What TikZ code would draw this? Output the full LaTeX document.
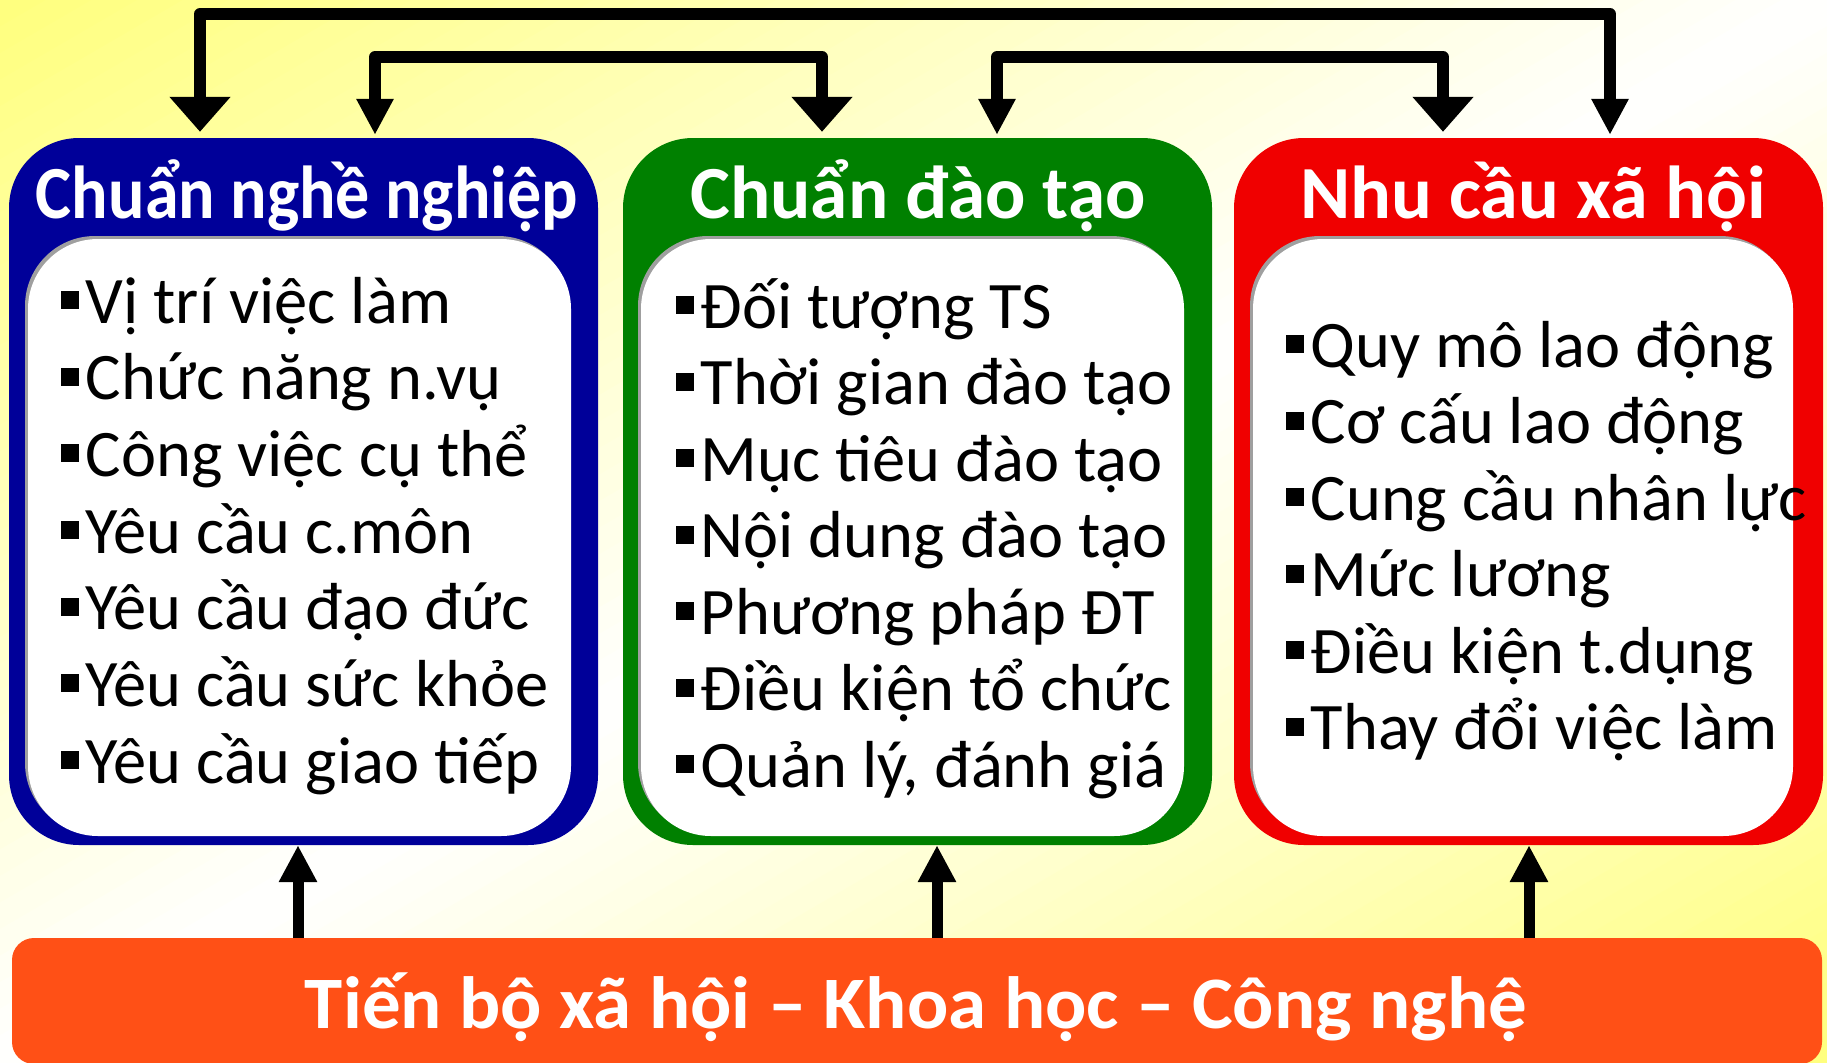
\documentclass[tikz,border=0pt]{standalone}
\usepackage{fontspec}
\setmainfont{Carlito}
\usetikzlibrary{arrows.meta,shadows}
\definecolor{bgyel}{RGB}{255,255,125}
\definecolor{cblue}{RGB}{0,0,153}
\definecolor{cgreen}{RGB}{0,128,0}
\definecolor{cred}{RGB}{240,0,0}
\definecolor{corange}{RGB}{255,80,22}
\newcommand\sqb{\rule[14pt]{18pt}{18pt}\hspace{6.5pt}}
\tikzset{
  wt/.tip={Triangle[width=59pt,length=35pt]},
  nt/.tip={Triangle[width=35pt,length=36pt]},
}
\begin{document}
\begin{tikzpicture}[x=1pt,y=-1pt,
  outerbox/.style={draw=none, rounded corners=70pt, minimum width=589pt, minimum height=707pt, inner sep=0pt},
  innerbox/.style={fill=white, rounded corners=70pt, minimum width=543pt, minimum height=597pt, inner sep=0pt,
     drop shadow={shadow xshift=-3pt, shadow yshift=3pt, fill=gray!75, opacity=1}},
  titletext/.style={text=white, inner sep=0pt, anchor=base, font=\fontsize{75}{90}\selectfont\bfseries},
  item/.style={anchor=base west, inner sep=0pt, font=\fontsize{66.5}{80}\selectfont},
  conn/.style={line width=12pt, line join=round, draw=black},
  uparrow/.style={line width=11pt, draw=black, -{Triangle[width=36pt,length=37pt]}},
]
\useasboundingbox (0,0) rectangle (1827,1062);
% background gradient
\begin{scope}
\clip (0,0) rectangle (1827,1062);
\foreach \k in {0,...,79}{
  \pgfmathsetmacro\ta{\k*0.025}
  \pgfmathsetmacro\tb{\k*0.025+0.03}
  \pgfmathsetmacro\pc{abs(1-(\k+0.5)*0.025)*100}
  \fill[bgyel!\pc!white] (\ta*1827,0) -- (\tb*1827,0) -- (0,\tb*1062) -- (0,\ta*1062) -- cycle;
}
\end{scope}

% outer boxes
\node[outerbox, fill=cblue] (blue) at (303.5,491.5) {};
\node[outerbox, fill=cgreen] (green) at (917.5,491.5) {};
\node[outerbox, fill=cred] (red) at (1528.5,491.5) {};

% inner boxes
\node[innerbox] (blueIn) at (299.5,537.5) {};
\node[innerbox] (greenIn) at (912.5,537.5) {};
\node[innerbox, minimum width=540pt] (redIn) at (1523,537.5) {};

% titles
\node[titletext] (t1) at (307,218) {\resizebox{542pt}{\height}{Chuẩn nghề nghiệp}};
\node[titletext] (t2) at (918,218) {\resizebox{455pt}{\height}{Chuẩn đào tạo}};
\node[titletext] (t3) at (1533,218) {\resizebox{466pt}{\height}{Nhu cầu xã hội}};

% left list
\node[item] (l1) at (61,323) {\sqb Vị trí việc làm};
\node[item] (l2) at (61,399.7) {\sqb Chức năng n.vụ};
\node[item] (l3) at (61,476.3) {\sqb Công việc cụ thể};
\node[item] (l4) at (61,553) {\sqb Yêu cầu c.môn};
\node[item] (l5) at (61,629.7) {\sqb Yêu cầu đạo đức};
\node[item] (l6) at (61,706.3) {\sqb Yêu cầu sức khỏe};
\node[item] (l7) at (61,783) {\sqb Yêu cầu giao tiếp};

% middle list
\node[item] (m1) at (676,328) {\sqb Đối tượng TS};
\node[item] (m2) at (676,404.5) {\sqb Thời gian đào tạo};
\node[item] (m3) at (676,481) {\sqb Mục tiêu đào tạo};
\node[item] (m4) at (676,557.5) {\sqb Nội dung đào tạo};
\node[item] (m5) at (676,634) {\sqb Phương pháp ĐT};
\node[item] (m6) at (676,710.5) {\sqb Điều kiện tổ chức};
\node[item] (m7) at (676,787) {\sqb Quản lý, đánh giá};

% right list
\node[item] (r1) at (1286,367) {\sqb Quy mô lao động};
\node[item] (r2) at (1286,443.5) {\sqb Cơ cấu lao động};
\node[item] (r3) at (1286,520) {\sqb Cung cầu nhân lực};
\node[item] (r4) at (1286,596.5) {\sqb Mức lương};
\node[item] (r5) at (1286,673) {\sqb Điều kiện t.dụng};
\node[item] (r6) at (1286,749.5) {\sqb Thay đổi việc làm};

% top connectors
\draw[conn, {wt}-{nt}] ([xshift=-103.5pt,yshift=6pt]blue.north) -- (200,14) -- (1610,14) -- ([xshift=81.5pt,yshift=3pt]red.north);
\draw[conn, {nt}-{wt}] ([xshift=71.5pt,yshift=3pt]blue.north) -- (375,57) -- (822,57) -- ([xshift=-95.5pt,yshift=6pt]green.north);
\draw[conn, {nt}-{wt}] ([xshift=79.5pt,yshift=3pt]green.north) -- (997,57) -- (1443,57) -- ([xshift=-85.5pt,yshift=6pt]red.north);

% bottom bar
\node[fill=corange, rounded corners=22pt, minimum width=1810pt, minimum height=126pt, inner sep=0pt] (bar) at (917,1001) {};
\node[text=white, anchor=base, inner sep=0pt, font=\fontsize{74}{88}\selectfont\bfseries] (bartxt) at (916,1028) {\resizebox{1222pt}{\height}{Tiến bộ xã hội – Khoa học – Công nghệ}};

% up arrows
\draw[uparrow] ([xshift=-619pt]bar.north) -- ([xshift=-5.5pt]blue.south);
\draw[uparrow] ([xshift=20pt]bar.north) -- ([xshift=19.5pt]green.south);
\draw[uparrow] ([xshift=612pt]bar.north) -- ([xshift=0.5pt]red.south);
\end{tikzpicture}
\end{document}
